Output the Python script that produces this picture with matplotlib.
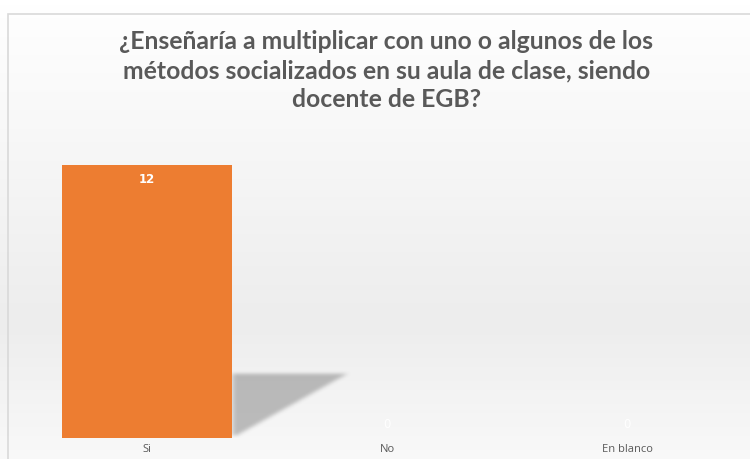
import numpy as np
import matplotlib.pyplot as plt
from matplotlib.patches import Rectangle

categories = ["Si", "No", "En blanco"]
values = [12, 0, 0]
title = "¿Enseñaría a multiplicar con uno o algunos de los\nmétodos socializados en su aula de clase, siendo\ndocente de EGB?"

fig = plt.figure(figsize=(7.5, 4.59), dpi=100)

# background gradient
bg = fig.add_axes([0, 0, 1, 1], zorder=-10)
grad = np.concatenate([np.linspace(1.0, 0.93, 70), np.linspace(0.93, 0.975, 30)])
bg.imshow(np.tile(grad[:, None], (1, 2))[:, :, None].repeat(3, axis=2),
          aspect="auto", extent=[0, 1, 0, 1], origin="upper")
bg.set_xlim(0, 1)
bg.set_ylim(0, 1)
bg.axis("off")
bg.add_patch(Rectangle((8 / 750, -0.05), 1.0, 1 - 14 / 459 + 0.05,
                       fill=False, edgecolor="#d9d9d9", lw=1.2))

ax = fig.add_axes([27 / 750, 1 - 438 / 459, 720 / 750, (438 - 119.5) / 459])
ax.set_facecolor("none")
x = np.arange(len(categories))
width = 0.71
ymax = 14


def blur(a, n):
    k = np.ones(n) / n
    a = np.apply_along_axis(lambda r: np.convolve(r, k, mode="same"), 1, a)
    a = np.apply_along_axis(lambda c: np.convolve(c, k, mode="same"), 0, a)
    return a


# soft perspective shadow behind the bar
for i, v in enumerate(values):
    if v <= 0:
        continue
    xr = x[i] + width / 2
    top = v * 0.235
    x0, x1 = xr - 0.05, xr + 0.6
    y0, y1 = 0, top + 0.6
    gx = np.linspace(x0, x1, 200)
    gy = np.linspace(y1, y0, 160)
    X, Y = np.meshgrid(gx, gy)
    mask = (X >= xr) & (Y <= top) & (Y >= 0.1) & (X - xr <= 0.48 * (Y / top))
    m = blur(mask.astype(float), 9)
    m = blur(m, 7)
    rgba = np.zeros(m.shape + (4,))
    rgba[..., :3] = 0.35
    rgba[..., 3] = m * 0.38
    ax.imshow(rgba, extent=[x0, x1, y0, y1], aspect="auto", zorder=1,
              interpolation="bilinear")

bars = ax.bar(x, values, width=width, color="#ed7d31", zorder=2)
for i, v in enumerate(values):
    if v > 0:
        ax.text(x[i], v - 0.35, str(v), ha="center", va="top", color="white",
                fontsize=8.5, fontweight="bold", zorder=3)
    else:
        ax.text(x[i], v + 0.3, str(v), ha="center", va="bottom", color="white",
                fontsize=8.5, zorder=3)

ax.set_xlim(-0.5, len(categories) - 0.5)
ax.set_ylim(0, ymax)
ax.set_xticks(x)
ax.set_xticklabels(categories, fontsize=8, color="#595959", family="Open Sans")
ax.tick_params(axis="x", length=0, pad=4)
ax.set_yticks([])
for s in ax.spines.values():
    s.set_visible(False)

fig.text(0.515, 1 - 30 / 459, title, ha="center", va="top", fontsize=17.8,
         fontweight="bold", color="#595959", family="Lato", linespacing=1.32)

fig.savefig("out.png", dpi=100)
